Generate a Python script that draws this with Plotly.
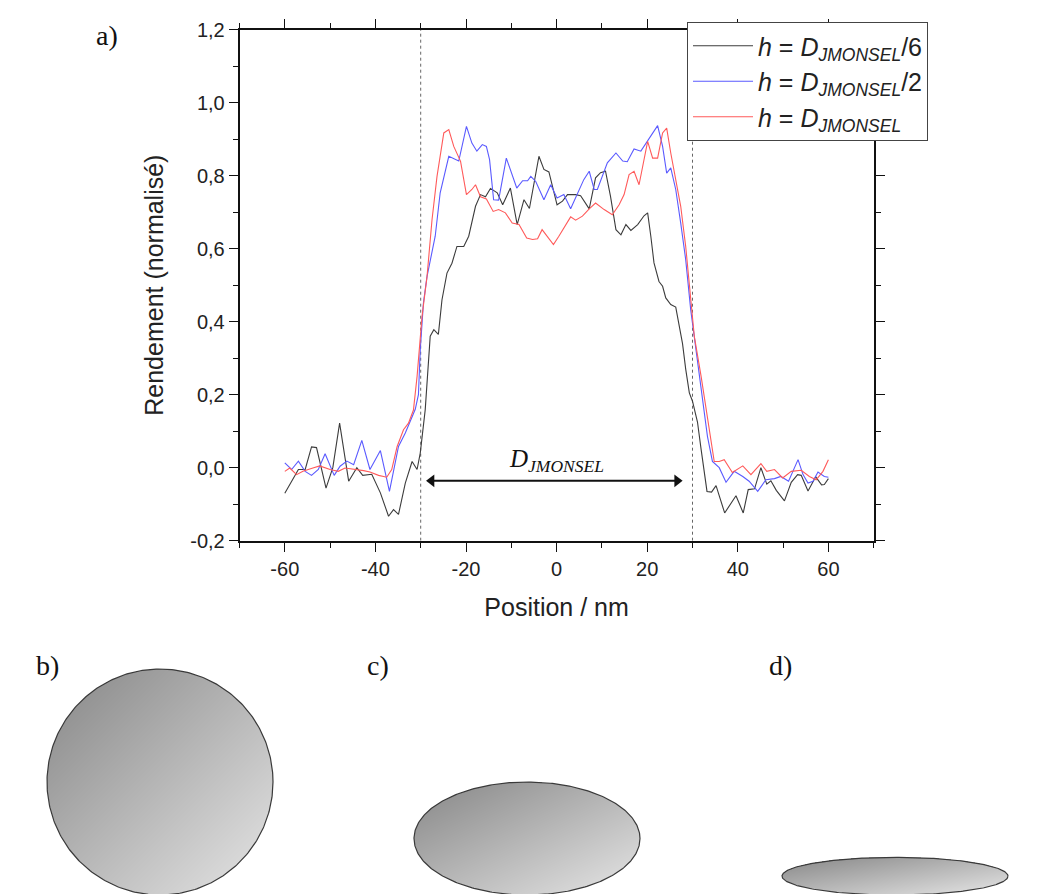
import numpy as np
import plotly.graph_objects as go

W, H = 1038, 894

# ---------------- data (Position / nm, Rendement normalisé) ----------------
x_d6 = [-60, -57, -55.5, -54.1, -53, -50.9, -49.4, -47.9, -45.9, -44.1, -42.8, -40.8,
        -38.9, -37.1, -36, -34.9, -33.4, -31.9, -30.8, -30.1, -29.0, -27.9, -27.1, -26.1,
        -25.3, -24.2, -23.1, -22.0, -20.5, -19.4, -17.9, -16.8, -15.7, -14.6, -13.1, -11.9,
        -10.2, -8.7, -7.2, -6.0, -3.9, -2.8, -1.7, -1.0, 0.1, 1.3, 2.4, 4.2, 5.3, 7.2,
        8.6, 9.7, 10.8, 11.9, 13.1, 14.2, 15.3, 16.4, 17.9, 19.3, 20.1, 20.8, 21.5, 22.6,
        23.4, 24.1, 25.2, 26.3, 27.0, 27.8, 28.5, 29.3, 30.0, 31.1, 31.9, 33.2, 34.2, 35.2,
        37.1, 38.8, 39.6, 41.2, 42.3, 43.7, 45.1, 46.4, 47.3, 48.5, 50.3, 51.8, 53.2, 54.0,
        55.5, 57.2, 58.5, 59.1, 60.0]
y_d6 = [-0.07, -0.005, -0.005, 0.057, 0.055, -0.056, 0.0, 0.122, -0.037, 0.0, -0.021, -0.018,
        -0.069, -0.133, -0.115, -0.128, -0.042, 0.017, -0.005, 0.04, 0.159, 0.36, 0.378, 0.365,
        0.46, 0.533, 0.56, 0.606, 0.606, 0.634, 0.716, 0.748, 0.742, 0.765, 0.753, 0.72,
        0.766, 0.666, 0.734, 0.71, 0.853, 0.817, 0.81, 0.775, 0.72, 0.73, 0.748, 0.748, 0.745, 0.709,
        0.794, 0.808, 0.812, 0.743, 0.652, 0.638, 0.666, 0.65, 0.666, 0.69, 0.698, 0.634, 0.561, 0.51,
        0.497, 0.465, 0.447, 0.44, 0.396, 0.34, 0.27, 0.205, 0.182, 0.125, 0.05, -0.065, -0.067, -0.049,
        -0.124, -0.09, -0.077, -0.124, -0.06, -0.058, 0.0, -0.045, -0.036, -0.062, -0.091, -0.04, -0.019, -0.021,
        -0.064, -0.025, -0.047, -0.046, -0.03]

x_d2 = [-60, -58.5, -57, -55.5, -54.1, -52.6, -51.1, -50, -49.1, -47.8, -46.3, -44.8,
        -43, -41.2, -38.9, -36.9, -34.9, -33.4, -32.3, -31.2, -30.5, -30.1, -29.4, -28.6,
        -26.8, -25.7, -23.8, -22.3, -21.6, -19.9, -18.7, -17.6, -16.4, -15.5, -14.8, -13.9,
        -12.8, -11.1, -9.8, -8.8, -7.5, -6.4, -5.7, -4.6, -2.8, -1.3, 0.1, 1.6, 3.1, 4.6,
        6.0, 7.2, 8.3, 9.0, 11.2, 13.1, 14.6, 15.6, 17.1, 18.6, 20.1, 21.2, 22.3, 23.4,
        24.3, 25.2, 26.3, 27.4, 28.5, 29.6, 30.4, 31.9, 33.3, 34.4, 35.9, 37.4, 39.2, 41.1,
        42.5, 44.4, 46.2, 48.1, 49.5, 51.2, 53.3, 54.4, 55.5, 56.6, 57.7, 59.1, 60.0]
y_d2 = [0.013, -0.005, 0.018, -0.01, -0.021, -0.005, 0.038, 0.008, -0.021, 0.004, 0.018, 0.008,
        0.075, -0.005, 0.047, -0.065, 0.058, 0.095, 0.127, 0.16, 0.2, 0.323, 0.451, 0.524,
        0.634, 0.753, 0.853, 0.844, 0.84, 0.935, 0.889, 0.867, 0.885, 0.88, 0.844, 0.734,
        0.733, 0.848, 0.803, 0.766, 0.786, 0.786, 0.798, 0.784, 0.734, 0.775, 0.739, 0.748, 0.709, 0.748,
        0.789, 0.812, 0.762, 0.762, 0.835, 0.862, 0.84, 0.838, 0.873, 0.867, 0.894, 0.917, 0.937, 0.88,
        0.807, 0.821, 0.762, 0.67, 0.57, 0.433, 0.36, 0.214, 0.086, 0.017, 0.0, -0.04, -0.01, -0.024,
        -0.037, -0.065, -0.033, -0.03, -0.024, -0.037, 0.022, -0.019, -0.042, -0.037, -0.012, -0.024, -0.026]

x_d1 = [-60, -58.9, -57.4, -56, -53.8, -52.3, -50, -48.2, -46.7, -44.8, -42.6, -41.2,
        -39.3, -37.5, -36.4, -35.2, -33.8, -32.7, -31.6, -30.8, -29.7, -28.6, -27.5, -26.4,
        -24.9, -23.8, -22.7, -21.2, -19.9, -18.7, -17.9, -16.8, -15.5, -14.0, -12.8, -11.3,
        -9.8, -8.3, -6.6, -5.3, -4.2, -3.2, -2.1, -0.7, 0.5, 1.6, 3.1, 4.2, 5.7, 7.2,
        8.6, 10.5, 12.3, 13.8, 14.9, 16.0, 17.1, 18.2, 19.3, 20.1, 21.2, 22.3, 23.4, 24.3,
        25.2, 26.3, 27.4, 28.5, 29.6, 30.4, 31.9, 33.3, 34.8, 35.9, 37.0, 38.8, 41.1, 42.9,
        45.1, 46.4, 48.1, 49.9, 51.8, 54.0, 55.8, 57.3, 58.8, 60.0]
y_d1 = [-0.01, -0.001, -0.019, -0.01, -0.001, 0.005, -0.005, -0.01, -0.001, -0.004, -0.008, -0.012,
        -0.021, -0.026, -0.005, 0.058, 0.104, 0.122, 0.158, 0.25, 0.415, 0.524, 0.679, 0.798,
        0.917, 0.926, 0.88, 0.839, 0.748, 0.762, 0.775, 0.742, 0.736, 0.702, 0.707, 0.698,
        0.67, 0.666, 0.629, 0.625, 0.627, 0.652, 0.634, 0.611, 0.634, 0.657, 0.687, 0.678, 0.689, 0.709,
        0.725, 0.707, 0.693, 0.72, 0.748, 0.803, 0.812, 0.775, 0.844, 0.894, 0.848, 0.848, 0.917, 0.93,
        0.862, 0.789, 0.716, 0.606, 0.46, 0.36, 0.25, 0.132, 0.017, 0.017, 0.022, -0.013, 0.005, -0.019,
        0.011, -0.01, -0.005, -0.028, -0.01, -0.007, -0.024, -0.033, -0.01, 0.022]

series_names = ["<i>h</i> = <i>D</i><sub><i>JMONSEL</i></sub>/6",
                "<i>h</i> = <i>D</i><sub><i>JMONSEL</i></sub>/2",
                "<i>h</i> = <i>D</i><sub><i>JMONSEL</i></sub>"]
series_colors = ["#3c3c3c", "#5a5aff", "#ff5a5a"]

D_JMONSEL = 60                      # nm, particle diameter
arrow_ends = [-27.6, 26.6]          # nm (marker centres of the arrow heads)
arrow_level = -0.036

x_tickvals = [-60, -40, -20, 0, 20, 40, 60]
x_ticktext = ["-60", "-40", "-20", "0", "20", "40", "60"]
x_minor = [-70, -50, -30, -10, 10, 30, 50, 70]
y_tickvals = [-0.2, 0.0, 0.2, 0.4, 0.6, 0.8, 1.0, 1.2]
y_ticktext = ["-0,2", "0,0", "0,2", "0,4", "0,6", "0,8", "1,0", "1,2"]
y_minor = [-0.1, 0.1, 0.3, 0.5, 0.7, 0.9, 1.1]

# aspect ratios h / D of the sketched particles (panels b, c, d)
shape_ratios = [1.0, 1 / 2, 1 / 6]
panel_labels = ["b)", "c)", "d)"]

# ---------------- figure ----------------
fig = go.Figure()

for xs, ys, name, col in zip([x_d6, x_d2, x_d1], [y_d6, y_d2, y_d1], series_names, series_colors):
    fig.add_trace(go.Scatter(x=xs, y=ys, mode="lines", name=name,
                             line=dict(color=col, width=1.1)))

# double arrow spanning D_JMONSEL
fig.add_trace(go.Scatter(x=arrow_ends, y=[arrow_level, arrow_level], mode="lines+markers",
                         line=dict(color="#111111", width=2),
                         marker=dict(symbol=["triangle-left", "triangle-right"], size=11,
                                     color="#111111"),
                         showlegend=False, hoverinfo="skip"))

# bottom sketches on a pixel-space overlay axis
sketch_cx = [160, 527, 895]
sketch_w = 226
sketch_bottom = 895
for r, c in zip(shape_ratios, sketch_cx):
    h = sketch_w * r
    top = sketch_bottom - h
    xs = np.arange(c - sketch_w / 2 + 0.5, c + sketch_w / 2, 1.0)
    ys = np.arange(top + 0.5, sketch_bottom, 1.0)
    X, Y = np.meshgrid(xs, ys)
    inside = ((X - c) / (sketch_w / 2)) ** 2 + ((Y - (top + h / 2)) / (h / 2)) ** 2 <= 1.0
    u = (X - (c - sketch_w / 2)) / sketch_w
    v = (Y - top) / h
    Z = np.where(inside, np.round((u + v) / 2, 3), np.nan)
    fig.add_trace(go.Heatmap(x=xs, y=ys, z=Z, xaxis="x2", yaxis="y2",
                             colorscale=[[0, "#868686"], [1, "#e6e6e6"]], zmin=0, zmax=1,
                             showscale=False, hoverinfo="skip", zsmooth=False))
    t = np.linspace(0, 2 * np.pi, 361)
    fig.add_trace(go.Scatter(x=c + sketch_w / 2 * np.cos(t), y=top + h / 2 + h / 2 * np.sin(t),
                             mode="lines", line=dict(color="#3a3a3a", width=1.2),
                             xaxis="x2", yaxis="y2", showlegend=False, hoverinfo="skip"))

# dotted lines at +/- D/2
for xv in (-D_JMONSEL / 2, D_JMONSEL / 2):
    fig.add_shape(type="line", xref="x", yref="y", x0=xv, x1=xv, y0=-0.2, y1=1.2,
                  line=dict(color="#666666", width=1, dash="dot"), layer="below")

fig.add_annotation(x=0, y=-0.028, xref="x", yref="y", xanchor="center", yanchor="bottom",
                   showarrow=False, text="<i>D</i><sub><i>JMONSEL</i></sub>",
                   font=dict(family="Liberation Serif", size=25, color="#111111"))

# panel labels
fig.add_annotation(x=107 / W, y=1 - 35 / H, xref="paper", yref="paper", text="a)",
                   xanchor="center", yanchor="middle", showarrow=False,
                   font=dict(family="Liberation Serif", size=28, color="#111111"))
for lab, px in zip(panel_labels, [47, 378, 780]):
    fig.add_annotation(x=px / W, y=1 - 665 / H, xref="paper", yref="paper", text=lab,
                       xanchor="center", yanchor="middle", showarrow=False,
                       font=dict(family="Liberation Serif", size=28, color="#111111"))

axis_common = dict(showline=True, linecolor="#111111", linewidth=1.6, mirror="allticks",
                   ticks="outside", ticklen=9, tickwidth=1.4, tickcolor="#111111",
                   showgrid=False, zeroline=False, automargin=False,
                   tickfont=dict(family="Liberation Sans", size=20, color="#222222"))

fig.update_layout(
    width=W, height=H, template="none",
    margin=dict(l=0, r=0, t=0, b=0, pad=0),
    paper_bgcolor="white", plot_bgcolor="rgba(0,0,0,0)",
    xaxis=dict(domain=[239.5 / W, 873.7 / W], range=[-70, 70],
               tickmode="array", tickvals=x_tickvals, ticktext=x_ticktext,
               minor=dict(tickmode="array", tickvals=x_minor, ticklen=5, ticks="outside",
                          tickcolor="#111111", tickwidth=1.2),
               title=dict(text="Position / nm", standoff=20,
                          font=dict(family="Liberation Sans", size=25, color="#222222")),
               **axis_common),
    yaxis=dict(domain=[1 - 540.7 / H, 1 - 29.6 / H], range=[-0.2, 1.2],
               tickmode="array", tickvals=y_tickvals, ticktext=y_ticktext,
               minor=dict(tickmode="array", tickvals=y_minor, ticklen=5, ticks="outside",
                          tickcolor="#111111", tickwidth=1.2),
               title=dict(text="Rendement (normalisé)", standoff=19,
                          font=dict(family="Liberation Sans", size=25, color="#222222")),
               **axis_common),
    xaxis2=dict(domain=[0, 1], range=[0, W], visible=False, anchor="y2", fixedrange=True),
    yaxis2=dict(domain=[0, 1], range=[H, 0], visible=False, anchor="x2", fixedrange=True),
    legend=dict(x=687 / W, y=1 - 22 / H, xanchor="left", yanchor="top",
                bgcolor="white", bordercolor="#444444", borderwidth=1,
                font=dict(family="Liberation Sans", size=25, color="#222222"),
                itemwidth=60),
    showlegend=True,
)

fig.write_html("out.html", config={"displayModeBar": False},
               post_script="document.body.style.margin='0';document.body.style.overflow='hidden';")
